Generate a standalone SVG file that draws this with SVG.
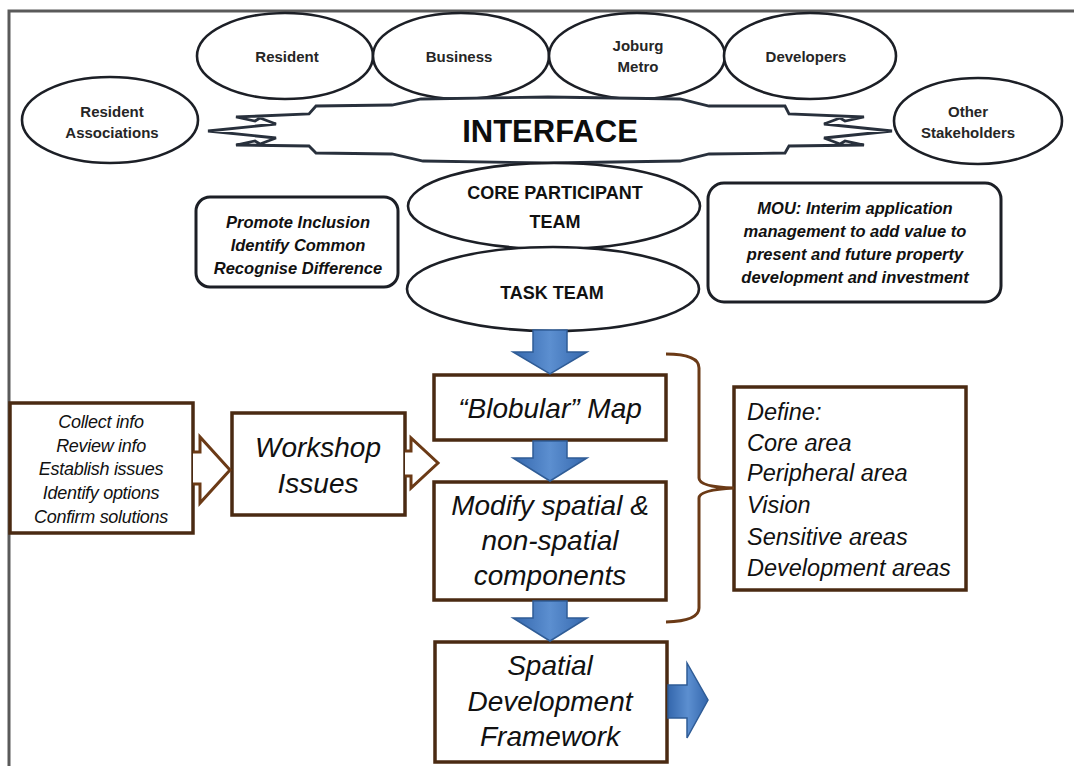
<svg xmlns="http://www.w3.org/2000/svg" width="1074" height="766" viewBox="0 0 1074 766">
  <defs>
    <style>
      .ell { fill: #fff; stroke: #1c1f26; stroke-width: 2.6; }
      .lbl { font-family: "Liberation Sans", Arial, sans-serif; font-weight: bold; font-size: 15px; fill: #262626; text-anchor: middle; }
      .cap { font-family: "Liberation Sans", Arial, sans-serif; font-weight: bold; font-size: 18px; fill: #111; text-anchor: middle; }
      .rbox { fill: #fff; stroke: #1c1f26; stroke-width: 3; }
      .note { font-family: "Liberation Sans", Arial, sans-serif; font-weight: bold; font-style: italic; font-size: 16.5px; fill: #111; text-anchor: middle; }
      .box { fill: #fff; stroke: #4a2a12; stroke-width: 3.5; }
      .big { font-family: "Liberation Sans", Arial, sans-serif; font-style: italic; font-size: 28px; fill: #111; text-anchor: middle; }
      .list { font-family: "Liberation Sans", Arial, sans-serif; font-style: italic; font-size: 18px; fill: #111; text-anchor: middle; letter-spacing: -0.3px; }
      .def { font-family: "Liberation Sans", Arial, sans-serif; font-style: italic; font-size: 23.5px; fill: #111; }
      .chev { fill: #fff; stroke: #6b3a16; stroke-width: 3; stroke-linejoin: miter; }
      .blue { fill: url(#blueGrad); stroke: #2f5c96; stroke-width: 1.5; }
    </style>
    <linearGradient id="blueGrad" x1="0" y1="0" x2="1" y2="0">
      <stop offset="0" stop-color="#3467ad"/>
      <stop offset="0.5" stop-color="#5c8fd0"/>
      <stop offset="1" stop-color="#3467ad"/>
    </linearGradient>
  </defs>

  <rect width="1074" height="766" fill="#fff"/>

  <!-- outer frame: top and left edges only -->
  <path d="M9,766 L9,11 L1074,11" fill="none" stroke="#5a5a5a" stroke-width="3"/>

  <!-- stakeholder ellipses -->
  <g id="resident">
    <ellipse class="ell" cx="285" cy="56" rx="88" ry="43"/>
    <text class="lbl" x="287" y="62">Resident</text>
  </g>
  <g id="business">
    <ellipse class="ell" cx="461" cy="56" rx="88" ry="43"/>
    <text class="lbl" x="459" y="62">Business</text>
  </g>
  <g id="joburg-metro">
    <ellipse class="ell" cx="637" cy="56" rx="88" ry="43"/>
    <text class="lbl" x="638" y="51">Joburg</text>
    <text class="lbl" x="638" y="72">Metro</text>
  </g>
  <g id="developers">
    <ellipse class="ell" cx="810" cy="56" rx="86" ry="43"/>
    <text class="lbl" x="806" y="62">Developers</text>
  </g>
  <g id="resident-associations">
    <ellipse class="ell" cx="110" cy="120" rx="88" ry="43"/>
    <text class="lbl" x="112" y="117">Resident</text>
    <text class="lbl" x="112" y="138">Associations</text>
  </g>
  <g id="other-stakeholders">
    <ellipse class="ell" cx="978" cy="121" rx="84" ry="43"/>
    <text class="lbl" x="968" y="117">Other</text>
    <text class="lbl" x="968" y="138">Stakeholders</text>
  </g>

  <!-- interface banner with jagged ends -->
  <g id="interface">
    <path d="M236,117 L309,114 L316,106 L392,105 L421,99 L548,97 L680,99 L709,106 L785,106 L789,114 L864,117
             L845,121 L840,118 L824,124 L892,131 L824,138 L840,144 L845,141 L864,145
             L789,146 L785,153 L709,154 L680,161 L548,163 L423,161 L392,154 L316,153 L309,146 L236,145
             L255,141 L260,144 L276,138 L208,131 L276,124 L260,118 L255,121 Z"
          fill="#fff" stroke="#28303c" stroke-width="2.8" stroke-linejoin="miter"/>
    <text x="550" y="142" font-family="'Liberation Sans', Arial, sans-serif" font-weight="bold" font-size="31" fill="#0d0d0d" text-anchor="middle">INTERFACE</text>
  </g>

  <!-- team ellipses -->
  <g id="core-participant-team">
    <ellipse class="ell" cx="554" cy="206" rx="146" ry="43"/>
    <text class="cap" x="555" y="199">CORE PARTICIPANT</text>
    <text class="cap" x="555" y="228">TEAM</text>
  </g>
  <g id="task-team">
    <ellipse class="ell" cx="553" cy="289" rx="146" ry="42"/>
    <text class="cap" x="552" y="299">TASK TEAM</text>
  </g>

  <!-- principle notes -->
  <g id="principles">
    <rect class="rbox" x="196" y="197" width="202" height="90" rx="14"/>
    <text class="note" x="298" y="228">Promote Inclusion</text>
    <text class="note" x="298" y="251">Identify Common</text>
    <text class="note" x="298" y="274">Recognise Difference</text>
  </g>
  <g id="mou">
    <rect class="rbox" x="708" y="183" width="293" height="119" rx="16"/>
    <text class="note" x="855" y="214" font-size="17">MOU: Interim application</text>
    <text class="note" x="855" y="237" font-size="17">management to add value to</text>
    <text class="note" x="855" y="260" font-size="17">present and future property</text>
    <text class="note" x="855" y="283" font-size="17">development and investment</text>
  </g>

  <!-- workflow boxes -->
  <g id="activities">
    <rect class="box" x="10" y="403" width="183" height="130"/>
    <text class="list" x="101" y="428">Collect info</text>
    <text class="list" x="101" y="452">Review info</text>
    <text class="list" x="101" y="475">Establish issues</text>
    <text class="list" x="101" y="499">Identify options</text>
    <text class="list" x="101" y="523">Confirm solutions</text>
  </g>
  <g id="workshop-issues">
    <rect class="box" x="232" y="413" width="173" height="102"/>
    <text class="big" x="318" y="457" font-size="27">Workshop</text>
    <text class="big" x="318" y="493" font-size="27">Issues</text>
  </g>
  <g id="blobular-map">
    <rect class="box" x="434" y="375" width="232" height="65"/>
    <text class="big" x="550" y="418">“Blobular” Map</text>
  </g>
  <g id="modify-components">
    <rect class="box" x="434" y="482" width="232" height="118"/>
    <text class="big" x="550" y="515">Modify spatial &amp;</text>
    <text class="big" x="550" y="550">non-spatial</text>
    <text class="big" x="550" y="585">components</text>
  </g>
  <g id="spatial-development-framework">
    <rect class="box" x="435" y="642" width="232" height="120"/>
    <text class="big" x="550" y="675">Spatial</text>
    <text class="big" x="550" y="711">Development</text>
    <text class="big" x="550" y="746">Framework</text>
  </g>
  <g id="define">
    <rect class="box" x="734" y="387" width="232" height="203"/>
    <text class="def" x="747" y="420">Define:</text>
    <text class="def" x="747" y="451">Core area</text>
    <text class="def" x="747" y="481">Peripheral area</text>
    <text class="def" x="747" y="513">Vision</text>
    <text class="def" x="747" y="545">Sensitive areas</text>
    <text class="def" x="747" y="576">Development areas</text>
  </g>

  <!-- connectors -->
  <g id="connectors">
    <!-- outlined chevron arrows -->
    <path class="chev" d="M193,452 L200,452 L200,437 L230,470 L200,503 L200,484 L193,484"/>
    <path class="chev" d="M405,451 L411,451 L411,438 L438,463 L411,488 L411,476 L405,476"/>
    <!-- blue block arrows -->
    <path class="blue" d="M533,330 L567,330 L567,352 L587,352 L550,374 L513,352 L533,352 Z"/>
    <path class="blue" d="M533,441 L567,441 L567,458 L587,458 L550,481 L513,458 L533,458 Z"/>
    <path class="blue" d="M533,601 L567,601 L567,618 L587,618 L550,641 L513,618 L533,618 Z"/>
    <path class="blue" d="M668,685 L687,685 L687,663 L708,700 L687,738 L687,718 L668,718 Z"/>
    <!-- bracket grouping the map and modify steps -->
    <path d="M666,354 Q699,354 699,368 L699,478 Q699,487 734,488 Q699,490 699,498 L699,608 Q699,621 666,622"
          fill="none" stroke="#6b3a16" stroke-width="3"/>
  </g>
</svg>
